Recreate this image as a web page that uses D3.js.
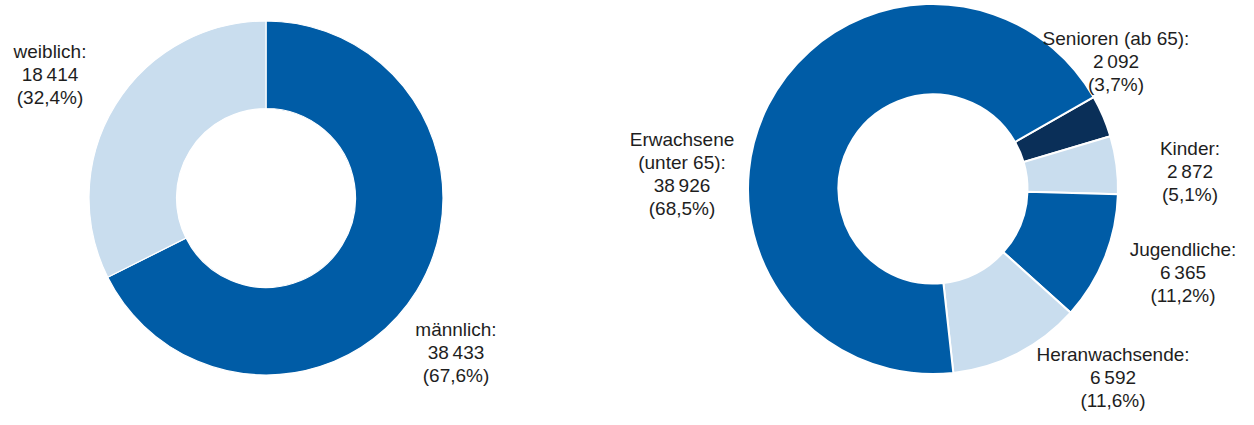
<!DOCTYPE html>
<html>
<head>
<meta charset="utf-8">
<script src="https://cdn.jsdelivr.net/npm/d3@7"></script>
<style>
html,body{margin:0;padding:0;background:#fff;}
svg{display:block;}
text{font-family:"Liberation Sans",Arial,sans-serif;font-size:19px;fill:#1e1e1e;}
</style>
</head>
<body>
<svg id="chart" width="1254" height="425"></svg>
<script>
// ---- data ----
const genderLabels = ["männlich", "weiblich"];
const genderValues = [38433, 18414];
const ageLabels = ["Senioren (ab 65)", "Kinder", "Jugendliche", "Heranwachsende", "Erwachsene\n(unter 65)"];
const ageValues = [2092, 2872, 6365, 6592, 38926];

// ---- styles / layout ----
const DARK = "#005ca6", LIGHT = "#c9ddee", NAVY = "#0a2f58";
const genderColors = [DARK, LIGHT];
const ageColors = [NAVY, LIGHT, DARK, LIGHT, DARK];

const loc = d3.formatLocale({decimal: ",", thousands: "\u2009", grouping: [3], currency: ["", ""]});
const fmtNum = loc.format(",d");
const fmtPct = loc.format(".1f");

const svg = d3.select("#chart");

function donut(cx, cy, rOuter, rInner, labels, values, colors, startDeg, labelPos, stroke) {
  const total = d3.sum(values);
  const pie = d3.pie().sort(null).value(d => d)
    .startAngle(startDeg * Math.PI / 180)
    .endAngle(startDeg * Math.PI / 180 + 2 * Math.PI);
  const arc = d3.arc().innerRadius(rInner).outerRadius(rOuter);
  const g = svg.append("g").attr("transform", `translate(${cx},${cy})`);
  g.selectAll("path").data(pie(values)).join("path")
    .attr("d", arc)
    .attr("fill", (d, i) => colors[i])
    .attr("stroke", "#fff")
    .attr("stroke-width", stroke)
    .attr("stroke-linejoin", "miter");

  labels.forEach((lab, i) => {
    const nameLines = lab.split("\n");
    nameLines[nameLines.length - 1] += ":";
    const lines = nameLines.concat([fmtNum(values[i]), "(" + fmtPct(values[i] / total * 100) + "%)"]);
    const p = labelPos[i];
    const t = svg.append("text").attr("text-anchor", "middle");
    lines.forEach((ln, k) => {
      t.append("tspan").attr("x", p[0]).attr("y", p[1] + k * 23).text(ln);
    });
  });
}

donut(266, 198, 177, 89.5, genderLabels, genderValues, genderColors, 0,
  [[456, 336], [50, 58]], 1.2);

donut(933, 189, 185, 94.5, ageLabels, ageValues, ageColors, 60.2,
  [[1116, 45], [1190, 155], [1183, 256], [1113, 361], [682, 146]], 2);
</script>
</body>
</html>
